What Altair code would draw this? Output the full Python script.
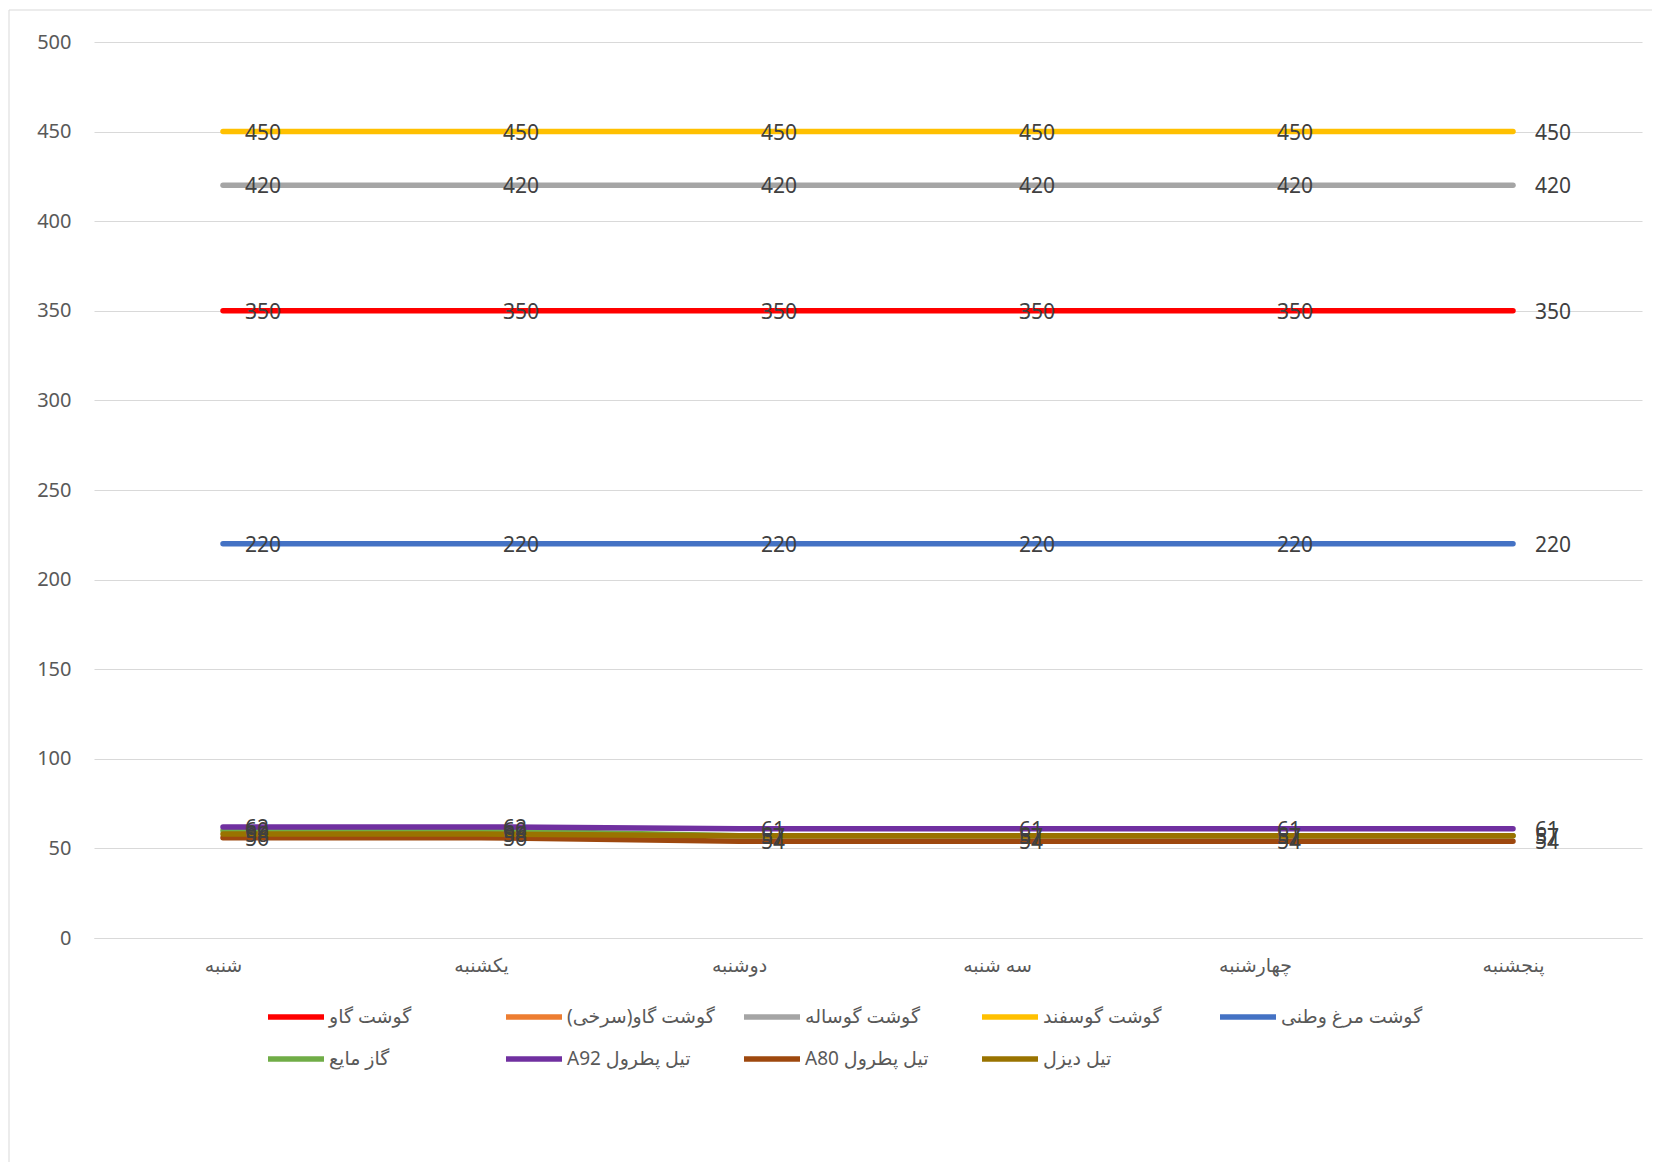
import altair as alt
import pandas as pd

days = ["شنبه", "یکشنبه", "دوشنبه", "سه شنبه", "چهارشنبه", "پنجشنبه"]

series_names = [
    "گوشت گاو",
    "گوشت گاو(سرخی)",
    "گوشت گوساله",
    "گوشت گوسفند",
    "گوشت مرغ وطنی",
    "گاز مایع",
    "تیل پطرول  A92",
    "تیل پطرول A80",
    "تیل دیزل",
]
series_colors = [
    "#FF0000", "#ED7D31", "#A5A5A5", "#FFC000", "#4472C4",
    "#70AD47", "#7030A0", "#9E480E", "#997300",
]

beef = [350, 350, 350, 350, 350, 350]
beef_red = [None, None, None, None, None, None]
veal = [420, 420, 420, 420, 420, 420]
mutton = [450, 450, 450, 450, 450, 450]
chicken = [220, 220, 220, 220, 220, 220]
lpg = [60, 60, 57, 57, 57, 57]
petrol_a92 = [62, 62, 61, 61, 61, 61]
petrol_a80 = [56, 56, 54, 54, 54, 54]
diesel = [58, 58, 57, 57, 57, 57]

series_values = [beef, beef_red, veal, mutton, chicken, lpg, petrol_a92, petrol_a80, diesel]

y_ticks = [0, 50, 100, 150, 200, 250, 300, 350, 400, 450, 500]

rows = []
for name, vals in zip(series_names, series_values):
    for d, v in zip(days, vals):
        rows.append({"day": d, "series": name, "value": v})
df = pd.DataFrame(rows)

FONT = "Noto Sans, DejaVu Sans, sans-serif"

x_enc = alt.X(
    "day:N",
    sort=days,
    scale=alt.Scale(type="point", padding=0.5),
    axis=alt.Axis(
        title=None, domain=True, domainColor="#D9D9D9", ticks=False, grid=False,
        labelAngle=0, labelFontSize=19, labelColor="#595959", labelPadding=18,
        labelFont=FONT,
    ),
)
y_enc = alt.Y(
    "value:Q",
    scale=alt.Scale(domain=[0, 500], nice=False),
    axis=alt.Axis(
        title=None, values=y_ticks, domain=False, ticks=False, grid=True,
        gridColor="#D9D9D9", gridWidth=1, labelFontSize=20, labelColor="#595959",
        labelPadding=23, labelFont=FONT,
    ),
)
color_enc = alt.Color(
    "series:N",
    scale=alt.Scale(domain=series_names, range=series_colors),
    legend=alt.Legend(
        title=None, orient="none", legendX=171, legendY=944, direction="horizontal",
        columns=5, gridAlign="all", columnPadding=18, rowPadding=-16,
        symbolType="stroke", symbolSize=3136, symbolStrokeWidth=5.5,
        labelFontSize=19, labelColor="#595959", labelOffset=2, labelFont=FONT,
        labelExpr="'\u202b' + datum.label + '\u202c'", labelLimit=300,
    ),
)

base = alt.Chart(df)

frame = alt.Chart(pd.DataFrame({"k": [0]})).mark_rect(
    fillOpacity=0, stroke="#D9D9D9", strokeWidth=1
).encode(
    x=alt.value(-85), x2=alt.value(1800), y=alt.value(-32), y2=alt.value(1400)
)

line_layers = []
for name in series_names:
    line_layers.append(
        base.transform_filter(alt.datum.series == name)
        .mark_line(strokeWidth=5.5, strokeCap="round", strokeJoin="round")
        .encode(x=x_enc, y=y_enc, color=color_enc)
    )

labels = base.mark_text(
    align="left", baseline="middle", dx=22, dy=2, fontSize=21, color="#404040", font=FONT
).encode(x=x_enc, y=y_enc, text=alt.Text("value:Q"))

chart = alt.layer(frame, *line_layers, labels).properties(
    width=1548, height=896,
    padding={"left": 86, "top": 34, "right": 10, "bottom": 224},
    autosize=alt.AutoSizeParams(type="none"),
).configure_view(stroke=None)

chart.save("out.html", embed_options={"renderer": "svg", "actions": False})
